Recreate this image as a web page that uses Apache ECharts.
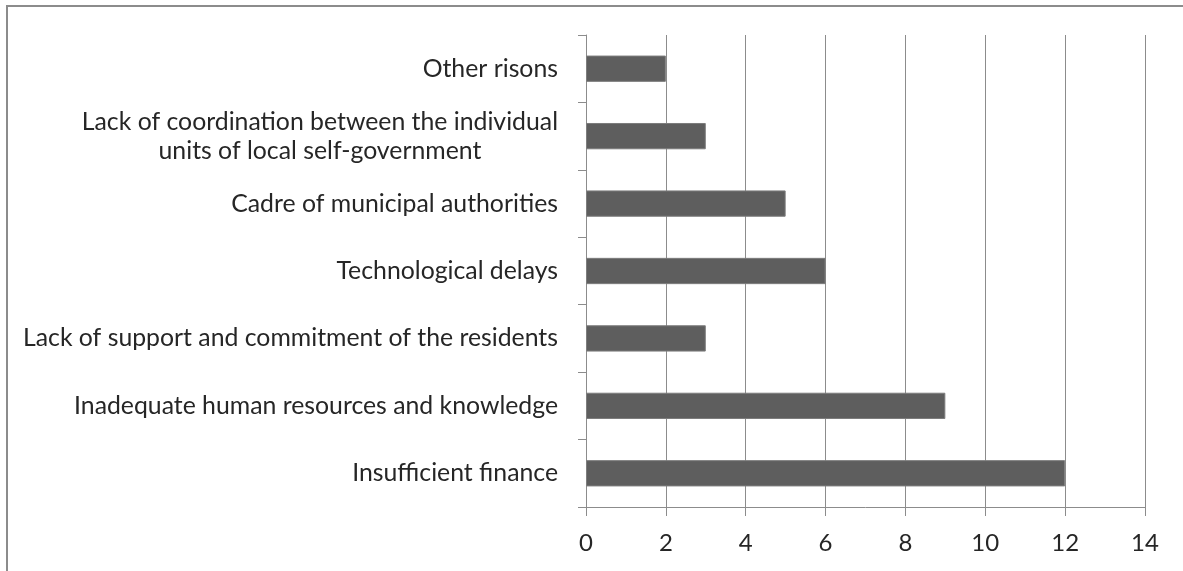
<!DOCTYPE html>
<html>
<head>
<meta charset="utf-8">
<script src="https://cdn.jsdelivr.net/npm/echarts@6/dist/echarts.min.js"></script>
<style>
  html, body { margin: 0; padding: 0; background: #fff; }
  .frame {
    position: absolute;
    left: 6px; top: 5px;
    width: 1177px; height: 566px;
    border-top: 2px solid #8c8c8c;
    border-left: 2px solid #8c8c8c;
  }
  #chart { position: absolute; left: 0; top: 0; width: 1183px; height: 571px; }
</style>
</head>
<body>
<div class="frame"></div>
<div id="chart"></div>
<script>
// categories listed bottom to top (ECharts category axis starts at the bottom)
const categories = [
  'Insufficient finance',
  'Inadequate human resources and knowledge',
  'Lack of support and commitment of the residents',
  'Technological delays',
  'Cadre of municipal authorities',
  'Lack of coordination between the individual\nunits of local self-government',
  'Other risons'
]
const counts = [12, 9, 3, 6, 5, 3, 2]
const xTicks = { min: 0, max: 14, interval: 2 }

const chart = echarts.init(document.getElementById('chart'), null, { renderer: 'canvas' })

const gray = '#8c8c8c'
const textColor = '#262626'
const font = 'Lato, "Open Sans", sans-serif'
const labelSize = 24.8

chart.setOption({
  animation: false,
  textStyle: { fontFamily: font, color: textColor },
  grid: { left: 586, right: 38, top: 35, bottom: 64 },
  xAxis: {
    type: 'value',
    min: xTicks.min,
    max: xTicks.max,
    interval: xTicks.interval,
    axisLine: { show: true, lineStyle: { color: gray, width: 1 } },
    axisTick: { show: true, length: 9, lineStyle: { color: gray } },
    axisLabel: { color: textColor, fontSize: 24, fontFamily: font, margin: 24 },
    splitLine: { show: true, lineStyle: { color: gray, width: 1 } }
  },
  yAxis: {
    type: 'category',
    data: categories,
    axisLine: { show: true, lineStyle: { color: gray, width: 1 } },
    axisTick: { show: true, length: 8, lineStyle: { color: gray } },
    axisLabel: {
      color: textColor,
      fontSize: labelSize,
      fontFamily: font,
      margin: 28,
      lineHeight: 29,
      formatter: v => v.indexOf('\n') < 0 ? v : v.split('\n').map(s => '{c|' + s + '}').join('\n'),
      rich: { c: { align: 'center', fontSize: labelSize, fontFamily: font, color: textColor, lineHeight: 29 } }
    },
    splitLine: { show: false }
  },
  series: [{
    type: 'bar',
    data: counts,
    barWidth: '39%',
    itemStyle: { color: '#5e5e5e', borderColor: '#7d7d7d', borderWidth: 1 },
    silent: true
  }]
})
</script>
</body>
</html>
